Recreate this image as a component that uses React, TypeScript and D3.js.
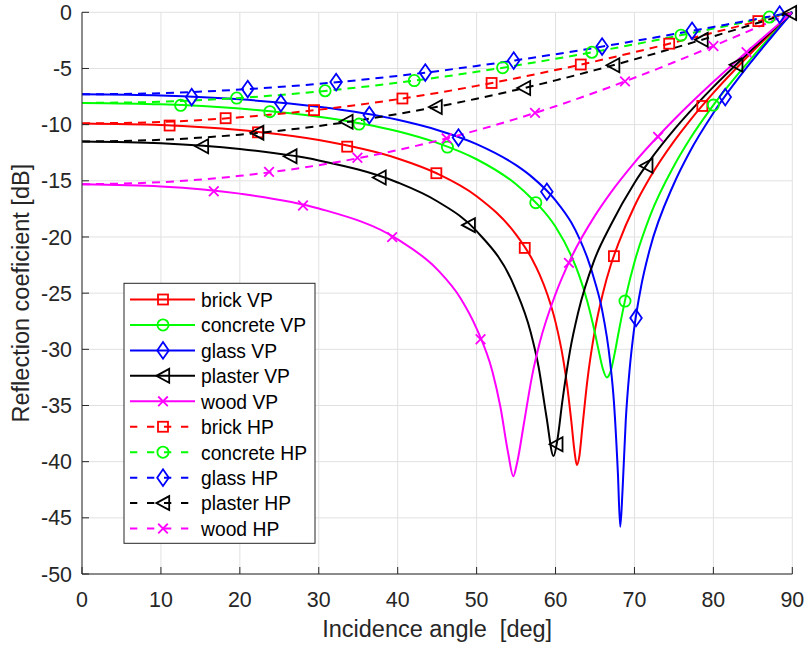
import React from 'react';
import * as d3 from 'd3';

type Pt = [number, number];

const angleTicks = [0, 10, 20, 30, 40, 50, 60, 70, 80, 90];
const dbTicks = [0, -5, -10, -15, -20, -25, -30, -35, -40, -45, -50];

// Reflection coefficient [dB] vs incidence angle [deg]
const brickVP: Pt[] = [[0, -9.89], [10, -10.03], [20, -10.48], [30, -11.37], [40, -13.01], [45, -14.35], [50, -16.37], [55, -19.79], [57, -21.94], [58, -23.38], [59, -25.19], [60, -27.58], [61, -31.0], [61.5, -33.38], [62, -36.4], [62.4, -39.05], [62.7, -40.3], [63, -39.6], [63.4, -36.95], [64, -32.96], [65, -28.25], [66, -25.0], [67, -22.5], [68, -20.52], [70, -17.26], [72, -14.67], [75, -11.49], [77, -9.66], [80, -7.18], [85, -3.47], [88, -1.38], [90, 0]];
const concreteVP: Pt[] = [[0, -8.07], [10, -8.19], [20, -8.57], [30, -9.29], [40, -10.59], [45, -11.62], [50, -13.08], [55, -15.31], [57, -16.59], [58, -17.3], [60, -19.09], [62, -21.69], [63, -23.44], [64, -25.68], [65, -28.57], [65.5, -30.23], [66, -31.75], [66.5, -32.5], [67, -31.92], [67.5, -30.34], [68, -28.46], [69, -25.02], [70, -22.25], [72, -18.08], [75, -13.68], [77, -11.3], [80, -8.26], [85, -3.94], [88, -1.56], [90, 0]];
const glassVP: Pt[] = [[0, -7.3], [10, -7.41], [20, -7.75], [30, -8.41], [40, -9.57], [45, -10.47], [50, -11.73], [55, -13.61], [57, -14.65], [60, -16.74], [62, -18.72], [63, -20.1], [64, -21.8], [65, -24.0], [65.9, -26.5], [66.9, -31.0], [67.4, -34.7], [67.9, -41.0], [68.2, -45.8], [68.5, -42.4], [68.9, -36.3], [69.4, -31.7], [69.9, -28.5], [70.9, -24.2], [71.9, -21.2], [75, -15.26], [77, -12.43], [80, -8.97], [85, -4.23], [88, -1.67], [90, 0]];
const plasterVP: Pt[] = [[0, -11.5], [10, -11.66], [20, -12.17], [30, -13.19], [40, -15.15], [45, -16.82], [50, -19.48], [54.85, -24.52], [56.85, -28.48], [57.85, -31.55], [58.85, -36.0], [59.75, -39.5], [60.25, -38.0], [60.85, -34.7], [61.85, -30.07], [62.85, -26.77], [64.85, -22.17], [67, -18.94], [70, -15.19], [72, -13.14], [75, -10.47], [77, -8.87], [80, -6.64], [85, -3.24], [88, -1.29], [90, 0]];
const woodVP: Pt[] = [[0, -15.31], [10, -15.5], [20, -16.14], [30, -17.46], [40, -20.21], [45, -22.88], [48, -25.49], [50, -28.15], [52, -31.97], [53, -35.07], [54, -39.25], [54.65, -41.3], [55.1, -40.2], [56, -36.58], [57, -32.47], [58, -29.4], [60, -25.08], [62, -21.82], [65, -18.1], [67, -16.05], [70, -13.38], [75, -9.57], [80, -6.19], [85, -3.05], [88, -1.21], [90, 0]];
const brickHP: Pt[] = [[0, -9.89], [10, -9.76], [20, -9.35], [30, -8.67], [40, -7.74], [45, -7.18], [50, -6.55], [55, -5.87], [60, -5.14], [65, -4.37], [70, -3.55], [75, -2.69], [80, -1.81], [85, -0.91], [88, -0.36], [90, 0]];
const concreteHP: Pt[] = [[0, -8.07], [10, -7.96], [20, -7.62], [30, -7.05], [40, -6.27], [45, -5.81], [50, -5.3], [55, -4.74], [60, -4.14], [65, -3.51], [70, -2.85], [75, -2.16], [80, -1.45], [85, -0.73], [88, -0.29], [90, 0]];
const glassHP: Pt[] = [[0, -7.3], [10, -7.2], [20, -6.88], [30, -6.37], [40, -5.66], [45, -5.24], [50, -4.77], [55, -4.27], [60, -3.73], [65, -3.16], [70, -2.56], [75, -1.94], [80, -1.3], [85, -0.66], [88, -0.26], [90, 0]];
const plasterHP: Pt[] = [[0, -11.5], [10, -11.35], [20, -10.89], [30, -10.12], [40, -9.05], [45, -8.41], [50, -7.69], [55, -6.91], [60, -6.06], [65, -5.15], [70, -4.19], [75, -3.18], [80, -2.14], [85, -1.08], [88, -0.43], [90, 0]];
const woodHP: Pt[] = [[0, -15.31], [10, -15.12], [20, -14.56], [30, -13.61], [40, -12.26], [45, -11.44], [50, -10.51], [55, -9.49], [60, -8.36], [65, -7.14], [70, -5.83], [75, -4.45], [80, -3.0], [85, -1.51], [88, -0.61], [90, 0]];

// Marker positions (incidence angle) on each curve
const brickVPMarks = [11.1, 22.3, 33.6, 44.9, 56.1, 67.4, 78.6];
const concreteVPMarks = [12.5, 23.8, 35.1, 46.3, 57.5, 68.8, 80.0];
const glassVPMarks = [13.9, 25.2, 36.4, 47.7, 58.9, 70.2, 81.5];
const plasterVPMarks = [15.2, 26.4, 37.7, 49.0, 60.1, 71.5, 82.9];
const woodVPMarks = [16.7, 28.0, 39.3, 50.5, 61.7, 73.0, 84.2];
const brickHPMarks = [18.2, 29.4, 40.6, 51.9, 63.2, 74.4, 85.7];
const concreteHPMarks = [19.6, 30.8, 42.1, 53.3, 64.6, 75.9, 87.1];
const glassHPMarks = [21.0, 32.2, 43.5, 54.7, 65.9, 77.3, 88.4];
const plasterHPMarks = [22.2, 33.5, 44.8, 56.0, 67.3, 78.5, 89.7];
const woodHPMarks = [23.7, 34.9, 46.2, 57.4, 68.8, 80.0];

const seriesNames = ['brick VP', 'concrete VP', 'glass VP', 'plaster VP', 'wood VP', 'brick HP', 'concrete HP', 'glass HP', 'plaster HP', 'wood HP'];

type Kind = 'square' | 'circle' | 'diamond' | 'triangle' | 'cross';

const series: { name: string; data: Pt[]; marks: number[]; color: string; kind: Kind; dashed: boolean }[] = [
  { name: seriesNames[0], data: brickVP, marks: brickVPMarks, color: '#ff0000', kind: 'square', dashed: false },
  { name: seriesNames[1], data: concreteVP, marks: concreteVPMarks, color: '#00ff00', kind: 'circle', dashed: false },
  { name: seriesNames[2], data: glassVP, marks: glassVPMarks, color: '#0000ff', kind: 'diamond', dashed: false },
  { name: seriesNames[3], data: plasterVP, marks: plasterVPMarks, color: '#000000', kind: 'triangle', dashed: false },
  { name: seriesNames[4], data: woodVP, marks: woodVPMarks, color: '#ff00ff', kind: 'cross', dashed: false },
  { name: seriesNames[5], data: brickHP, marks: brickHPMarks, color: '#ff0000', kind: 'square', dashed: true },
  { name: seriesNames[6], data: concreteHP, marks: concreteHPMarks, color: '#00ff00', kind: 'circle', dashed: true },
  { name: seriesNames[7], data: glassHP, marks: glassHPMarks, color: '#0000ff', kind: 'diamond', dashed: true },
  { name: seriesNames[8], data: plasterHP, marks: plasterHPMarks, color: '#000000', kind: 'triangle', dashed: true },
  { name: seriesNames[9], data: woodHP, marks: woodHPMarks, color: '#ff00ff', kind: 'cross', dashed: true },
];

const FONT = '"Liberation Sans", Arial, Helvetica, sans-serif';
const AXC = '#262626';
const GRID = '#e1e1e1';

const Marker = ({ kind, cx, cy, color }: { kind: Kind; cx: number; cy: number; color: string }) => {
  const sw = 1.8;
  if (kind === 'square') return <rect x={cx - 5} y={cy - 5} width={10} height={10} fill="none" stroke={color} strokeWidth={sw} />;
  if (kind === 'circle') return <circle cx={cx} cy={cy} r={5.6} fill="none" stroke={color} strokeWidth={sw} />;
  if (kind === 'diamond')
    return <path d={`M${cx},${cy - 8.3}L${cx + 5.8},${cy}L${cx},${cy + 8.3}L${cx - 5.8},${cy}Z`} fill="none" stroke={color} strokeWidth={sw} />;
  if (kind === 'triangle')
    return <path d={`M${cx - 6.7},${cy}L${cx + 6.2},${cy - 7}L${cx + 6.2},${cy + 7}Z`} fill="none" stroke={color} strokeWidth={sw} strokeLinejoin="miter" />;
  return (
    <path d={`M${cx - 4.8},${cy - 4.8}L${cx + 4.8},${cy + 4.8}M${cx - 4.8},${cy + 4.8}L${cx + 4.8},${cy - 4.8}`} fill="none" stroke={color} strokeWidth={sw} />
  );
};

export default function App() {
  const W = 806;
  const H = 648;
  const x = d3.scaleLinear().domain([0, 90]).range([82, 792.3]);
  const y = d3.scaleLinear().domain([-50, 0]).range([574, 12.3]);
  const line = d3
    .line<Pt>()
    .x((d) => x(d[0]))
    .y((d) => y(d[1]))
    .curve(d3.curveMonotoneX);

  const legX0 = 124;
  const legY0 = 283.3;
  const legW = 191;
  const legH = 260;
  const legRow0 = 299.5;
  const legStep = 25.45;

  return (
    <svg width={W} height={H} style={{ position: 'absolute', left: 0, top: 0, background: '#fff' }} fontFamily={FONT}>
      <rect x={0} y={0} width={W} height={H} fill="#fff" />
      {/* grid */}
      {angleTicks.map((t) => (
        <line key={'gx' + t} x1={x(t)} x2={x(t)} y1={y(0)} y2={y(-50)} stroke={GRID} strokeWidth={1} />
      ))}
      {dbTicks.map((t) => (
        <line key={'gy' + t} x1={x(0)} x2={x(90)} y1={y(t)} y2={y(t)} stroke={GRID} strokeWidth={1} />
      ))}
      {/* curves */}
      {series.map((s) => (
        <path key={'l' + s.name} d={line(s.data) || ''} fill="none" stroke={s.color} strokeWidth={2} strokeDasharray={s.dashed ? '8,6' : undefined} strokeLinejoin="round" />
      ))}
      {series.map((s) => {
        const interp = d3.scaleLinear().domain(s.data.map((d) => d[0])).range(s.data.map((d) => d[1]));
        return (
          <g key={'m' + s.name}>
            {s.marks.map((a, i) => (
              <Marker key={i} kind={s.kind} cx={x(a)} cy={y(interp(a))} color={s.color} />
            ))}
          </g>
        );
      })}
      {/* axes */}
      <line x1={x(0)} x2={x(0)} y1={y(0)} y2={y(-50)} stroke={AXC} strokeWidth={1} />
      <line x1={x(0)} x2={x(90)} y1={y(-50)} y2={y(-50)} stroke={AXC} strokeWidth={1} />
      {dbTicks.map((t) => (
        <g key={'ty' + t}>
          <line x1={x(0)} x2={x(0) + 7} y1={y(t)} y2={y(t)} stroke={AXC} strokeWidth={1} />
          <text x={72} y={y(t) + 7.6} fontSize={21.4} textAnchor="end" fill={AXC}>
            {t}
          </text>
        </g>
      ))}
      {angleTicks.map((t) => (
        <g key={'tx' + t}>
          <line x1={x(t)} x2={x(t)} y1={y(-50)} y2={y(-50) - 7} stroke={AXC} strokeWidth={1} />
          <text x={x(t)} y={606.5} fontSize={21.4} textAnchor="middle" fill={AXC}>
            {t}
          </text>
        </g>
      ))}
      <text x={(x(0) + x(90)) / 2} y={636.7} fontSize={23.5} textAnchor="middle" fill={AXC} style={{ whiteSpace: 'pre' }}>
        {'Incidence angle  [deg]'}
      </text>
      <text transform={`translate(28.5,${(y(0) + y(-50)) / 2}) rotate(-90)`} fontSize={23.5} textAnchor="middle" fill={AXC}>
        Reflection coeficient [dB]
      </text>
      {/* legend */}
      <rect x={legX0} y={legY0} width={legW} height={legH} fill="#fff" stroke={AXC} strokeWidth={1} />
      {series.map((s, i) => {
        const cy = legRow0 + i * legStep;
        return (
          <g key={'lg' + s.name}>
            <line x1={130} x2={195} y1={cy} y2={cy} stroke={s.color} strokeWidth={2} strokeDasharray={s.dashed ? '7.3,9.7' : undefined} />
            <Marker kind={s.kind} cx={163} cy={cy} color={s.color} />
            <text x={201} y={cy + 7.3} fontSize={19.3} fill="#000">
              {s.name}
            </text>
          </g>
        );
      })}
    </svg>
  );
}
